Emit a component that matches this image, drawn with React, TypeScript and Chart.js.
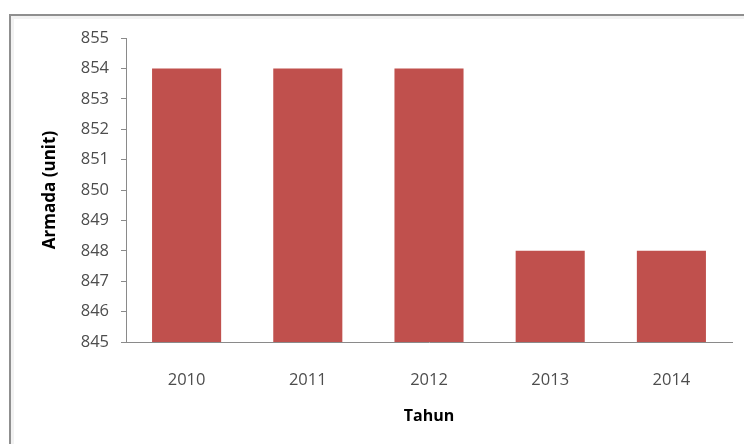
import React, { useEffect, useRef } from "react";
import { Chart, registerables } from "chart.js";

Chart.register(...registerables);

const categories = ["2010", "2011", "2012", "2013", "2014"];
const armada = [854, 854, 854, 848, 848];
const yMin = 845;
const yMax = 855;

const framePlugin = {
  id: "frame",
  beforeDraw(chart: any) {
    const ctx = chart.ctx;
    ctx.save();
    ctx.fillStyle = "#ffffff";
    ctx.fillRect(0, 0, chart.width, chart.height);
    ctx.strokeStyle = "rgba(0,0,0,0.05)";
    ctx.lineWidth = 4;
    ctx.strokeRect(12, 17, 900, 600);
    ctx.strokeStyle = "#8f8f8f";
    ctx.lineWidth = 2;
    ctx.strokeRect(10, 15, 900, 600);
    ctx.restore();
  },
};

export default function App() {
  const ref = useRef<HTMLCanvasElement | null>(null);
  useEffect(() => {
    document.body.style.margin = "0";
    const canvas = ref.current;
    if (!canvas) return;
    const font = "'Open Sans', sans-serif";
    const chart = new Chart(canvas, {
      type: "bar",
      data: {
        labels: categories,
        datasets: [
          {
            label: "Armada",
            data: armada,
            backgroundColor: "#C0504D",
            borderWidth: 0,
            barPercentage: 0.57,
            categoryPercentage: 1,
          },
        ],
      },
      options: {
        responsive: false,
        animation: false,
        layout: { padding: { left: 0, right: 12, top: 38, bottom: 0 } },
        plugins: { legend: { display: false }, tooltip: { enabled: false } },
        scales: {
          x: {
            grid: { display: false, drawTicks: false },
            border: { display: true, color: "#8a8a8a", width: 1 },
            ticks: {
              padding: 28,
              color: "#4d4d4d",
              font: { family: font, size: 16.5 },
            },
            title: {
              display: true,
              text: "Tahun",
              color: "#000000",
              font: { family: font, size: 16, weight: "bold" },
              padding: { top: 0, bottom: 18 },
            },
            afterFit(scale: any) {
              scale.height = 102;
            },
          },
          y: {
            min: yMin,
            max: yMax,
            ticks: {
              stepSize: 1,
              padding: 12,
              color: "#4d4d4d",
              font: { family: font, size: 16.5 },
            },
            grid: {
              drawOnChartArea: false,
              drawTicks: true,
              tickLength: 5,
              color: "#8a8a8a",
            },
            border: { display: true, color: "#8a8a8a", width: 1 },
            title: {
              display: true,
              text: "Armada (unit)",
              color: "#000000",
              font: { family: font, size: 17, weight: "bold" },
              padding: { top: 40, bottom: 0 },
            },
            afterFit(scale: any) {
              scale.width = 126;
            },
          },
        },
      },
      plugins: [framePlugin],
    });
    return () => chart.destroy();
  }, []);
  return (
    <div style={{ width: 744, height: 444 }}>
      <canvas ref={ref} width={744} height={444} style={{ display: "block", width: 744, height: 444 }} />
    </div>
  );
}
